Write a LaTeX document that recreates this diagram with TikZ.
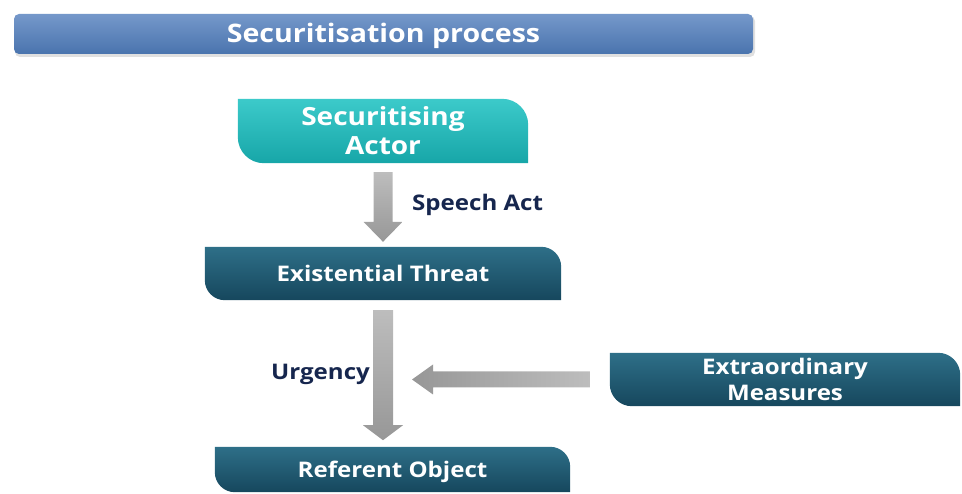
\documentclass[tikz,border=0pt]{standalone}
\usepackage{fontspec}
\usepackage{graphicx}
\setmainfont{Open Sans}
\usetikzlibrary{calc}
\pgfdeclarelayer{background}
\pgfsetlayers{background,main}
\definecolor{titletop}{HTML}{7598CA}
\definecolor{titlebot}{HTML}{4A74AE}
\definecolor{tealtop}{HTML}{3CCACA}
\definecolor{tealbot}{HTML}{17A6A8}
\definecolor{darktop}{HTML}{2E6F88}
\definecolor{darkbot}{HTML}{16475D}
\definecolor{graytop}{HTML}{BDBDBD}
\definecolor{graybot}{HTML}{979797}
\definecolor{navy}{HTML}{16264E}
\newcommand{\wtxt}[1]{\raisebox{-3pt}[\height][\depth]{\scalebox{1.12}[1]{\begin{tabular}{@{}c@{}}#1\end{tabular}}}}
\tikzset{
  boxtext/.style={font=\bfseries\fontsize{21.5}{25}\selectfont, text=white, align=center, inner sep=0pt},
  lbl/.style={font=\bfseries\fontsize{21.5}{25}\selectfont, text=navy, inner sep=0pt},
  tealfill/.style={top color=tealtop, bottom color=tealbot, draw=none},
  darkfill/.style={top color=darktop, bottom color=darkbot, draw=none},
  grayfill/.style={top color=graytop, bottom color=graybot, draw=none},
  grayfillh/.style={left color=graybot, right color=graytop, draw=none},
}
\newcommand{\tabshape}[3]{%
  \begin{pgfonlayer}{background}
  \path[#3] (#1.north west) -- ([xshift=-#2]#1.north east) arc[start angle=90,end angle=0,radius=#2]
    -- (#1.south east) -- ([xshift=#2]#1.south west) arc[start angle=270,end angle=180,radius=#2] -- cycle;
  \end{pgfonlayer}}
\begin{document}
\begin{tikzpicture}[x=1pt,y=-1pt]
\useasboundingbox (0,0) rectangle (962,494);
% title
\fill[black!12,rounded corners=5pt] (15,16) rectangle (755,57);
\node[minimum width=739pt, minimum height=40pt, inner sep=0pt, rounded corners=5pt,
  top color=titletop, bottom color=titlebot, text=white,
  font=\bfseries\fontsize{25.5}{27}\selectfont] (title) at (383.5,34) {\wtxt{Securitisation process}};
% boxes
\node[boxtext, font=\bfseries\fontsize{25}{29}\selectfont, minimum width=290pt, minimum height=64pt] (sa) at (383,131) {\wtxt{Securitising\\Actor}};
\tabshape{sa}{26pt}{tealfill}
\node[boxtext, minimum width=356pt, minimum height=53pt] (et) at (383,273.5) {\wtxt{Existential Threat}};
\tabshape{et}{20pt}{darkfill}
\node[boxtext, minimum width=355pt, minimum height=45pt] (ro) at (392.5,469.5) {\wtxt{Referent Object}};
\tabshape{ro}{20pt}{darkfill}
\node[boxtext, font=\bfseries\fontsize{21.5}{26}\selectfont, minimum width=350pt, minimum height=53pt] (em) at (785,379.5) {\wtxt{Extraordinary\\Measures}};
\tabshape{em}{22pt}{darkfill}
% labels
\node[lbl, anchor=west] (speech) at (412,203) {\wtxt{Speech Act}};
\node[lbl, anchor=west] (urg) at (271,372) {\wtxt{Urgency}};
% arrow 1 : sa -> et
\path[grayfill] ($(sa.south)+(-9.5,9)$) -- ++(19,0) -- ($(et.north)+(9.5,-25)$) -- ++(10,0)
  -- ($(et.north)+(0,-5)$) -- ($(et.north)+(-19.5,-25)$) -- ++(10,0) -- cycle;
% arrow 2 : et -> ro
\coordinate (tip2) at ($(et.south)+(0,140)$);
\path[grayfill] ($(et.south)+(-10,10)$) -- ++(20,0) -- ($(tip2)+(10,-15)$) -- ++(10,0)
  -- (tip2) -- ($(tip2)+(-20,-15)$) -- ++(10,0) -- cycle;
% arrow 3 : em -> urgency arrow
\coordinate (tip3) at (412,379.5);
\path[grayfillh] ($(em.west)+(-20,-8)$) -- ($(tip3)+(21,-8)$) -- ++(0,-7) -- (tip3)
  -- ($(tip3)+(21,15)$) -- ++(0,-7) -- ($(em.west)+(-20,8)$) -- cycle;
\end{tikzpicture}
\end{document}
